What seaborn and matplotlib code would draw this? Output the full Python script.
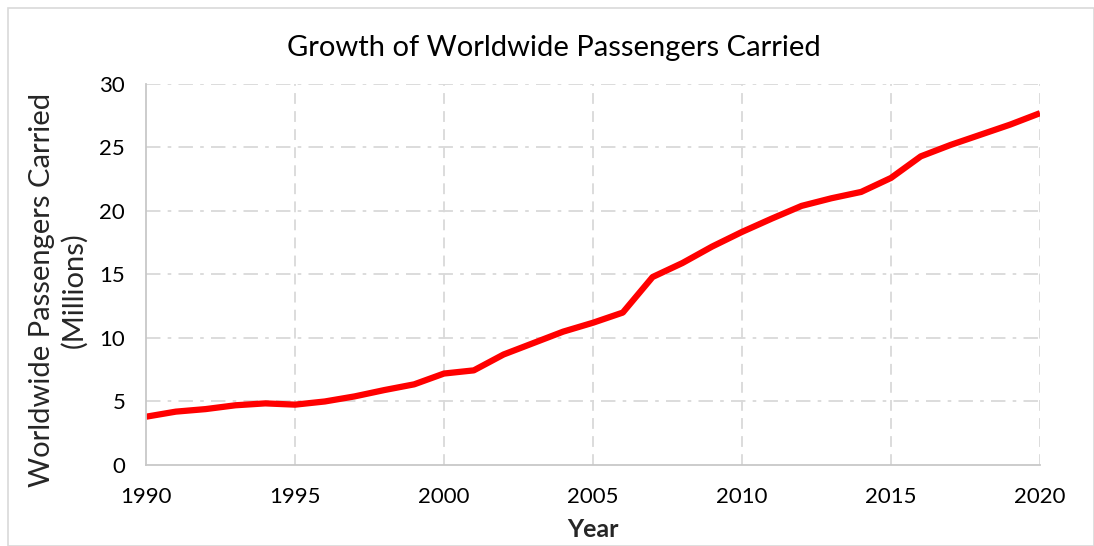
import matplotlib
matplotlib.use("Agg")
import matplotlib.pyplot as plt
import seaborn as sns
import pandas as pd
from matplotlib.patches import Rectangle

# Annual worldwide passengers carried (millions)
years = list(range(1990, 2021))
passengers = [3.8, 4.2, 4.4, 4.7, 4.85, 4.75, 5.0, 5.4, 5.9, 6.35, 7.2,
              7.45, 8.7, 9.6, 10.5, 11.2, 12.0, 14.8, 15.9, 17.2, 18.35,
              19.4, 20.4, 21.0, 21.5, 22.6, 24.3, 25.2, 26.0, 26.8, 27.7]
x_ticks = [1990, 1995, 2000, 2005, 2010, 2015, 2020]
y_ticks = [0, 5, 10, 15, 20, 25, 30]

df = pd.DataFrame({"Year": years, "Passengers": passengers})

sns.set_theme(style="white")
plt.rcParams["font.family"] = ["Lato", "DejaVu Sans"]

fig = plt.figure(figsize=(10.94, 5.46), dpi=100)
ax = fig.add_axes([0.1335, 0.1484, 0.8171, 0.6978])

sns.lineplot(data=df, x="Year", y="Passengers", ax=ax, color="#ff0000",
             linewidth=4.5, solid_joinstyle="round", solid_capstyle="butt")

ax.set_xlim(1990, 2020)
ax.set_ylim(0, 30)
ax.set_xticks(x_ticks)
ax.set_yticks(y_ticks)
ax.tick_params(axis="both", length=0, labelsize=16, colors="#000000")
ax.tick_params(axis="x", pad=16)
ax.tick_params(axis="y", pad=15)

# Vertical dashed grid, horizontal dash-dot grid
for xv in x_ticks[1:]:
    ax.axvline(xv, color="#d9d9d9", linewidth=1.3, linestyle=(0, (6, 4)), zorder=0)
for yv in y_ticks[1:]:
    ax.axhline(yv, color="#d9d9d9", linewidth=1.3, linestyle=(0, (8, 4, 2, 4)), zorder=0)

for side in ("top", "right"):
    ax.spines[side].set_visible(False)
for side in ("left", "bottom"):
    ax.spines[side].set_color("#c8c8c8")
    ax.spines[side].set_linewidth(1.3)

ax.set_xlabel("Year", fontsize=18, fontweight="bold", labelpad=8)
ax.set_ylabel("Worldwide Passengers Carried\n(Millions)", fontsize=21,
              linespacing=1.25)
ax.yaxis.set_label_coords(-0.066, 0.46)

fig.text(554 / 1094, 1 - 48 / 546, "Growth of Worldwide Passengers Carried",
         fontsize=21, ha="center", va="center", color="#000000")

fig.patches.append(Rectangle((8 / 1094, 0), 1 - 8 / 1094, 1 - 8 / 546,
                             transform=fig.transFigure, fill=False,
                             edgecolor="#d9d9d9", linewidth=1.2))

fig.savefig("out.png", dpi=100)
